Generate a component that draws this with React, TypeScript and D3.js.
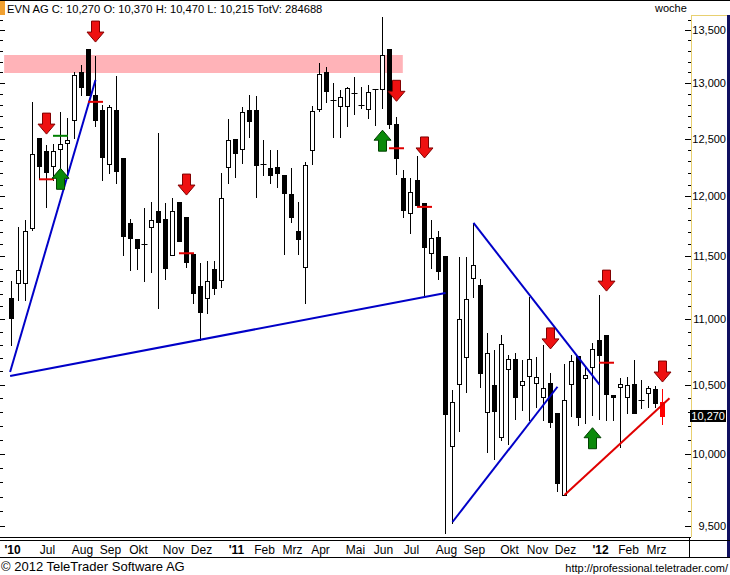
import React from "react";
import * as d3 from "d3";

const W = 730;
const H = 575;

// weekly OHLC, EVN AG, June 2010 – March 2012
const openP = [11165, 11285, 11285, 11735, 12505, 12390, 12260, 12410, 12460, 12665,
  13105, 13320, 12890, 12755, 12275, 12755, 12330, 11775, 11640, 11600,
  11740, 11875, 11810, 11510, 11950, 11825, 11520, 11260, 11165, 11395,
  11310, 12250, 12495, 12410, 12755, 12755, 12275, 12240, 12250, 12180,
  12020, 11710, 11415, 12400, 12765, 13105, 12845, 12790, 12790, 12910,
  12800, 12765, 12950, 12950, 13320, 12630, 12155, 11860, 12140, 11945,
  11525, 11660, 11505, 10055, 10505, 10710, 11325, 11270, 10300, 10500,
  10120, 10615, 10695, 10500, 10565, 10515, 10410, 10515, 10290, 9710,
  10505, 10715, 10550, 10630, 10840, 10875, 10425, 10485, 10410, 10505,
  10385, 10440, 10470, 10370];
const highP = [11300, 11740, 11800, 12830, 12505, 12445, 12450, 12740, 12685, 13105,
  13170, 13320, 13255, 12800, 12800, 13065, 12330, 11810, 11640, 11900,
  11950, 12550, 11945, 11985, 11950, 11825, 11520, 11445, 11460, 11460,
  12200, 12675, 12495, 12785, 12890, 12885, 12490, 12400, 12400, 12180,
  12240, 11950, 12295, 12790, 13190, 13150, 13005, 12940, 12965, 13060,
  12965, 12985, 12950, 13625, 13320, 12695, 12225, 12155, 12345, 11945,
  11800, 11710, 11505, 10460, 11495, 11495, 11775, 11315, 10890, 10760,
  10875, 10725, 10740, 10685, 11175, 10710, 10800, 10585, 10290, 10655,
  10725, 10715, 10630, 10815, 11190, 10875, 10425, 10550, 10555, 10685,
  10535, 10490, 10490, 10470];
const lowP = [10800, 11150, 11150, 11715, 12145, 11910, 12140, 12165, 12165, 12505,
  12890, 12890, 12610, 12140, 12200, 12115, 11510, 11390, 11395, 11300,
  11375, 11085, 11315, 11510, 11625, 11415, 11125, 10840, 11045, 11195,
  11250, 12115, 12165, 12285, 12515, 11995, 12180, 12115, 12080, 11520,
  11785, 11520, 11125, 12275, 12745, 12830, 12515, 12515, 12610, 12720,
  12775, 12685, 12620, 12775, 12595, 12190, 11825, 11690, 11925, 11190,
  11405, 11315, 9455, 9520, 10160, 10445, 11175, 10485, 10010, 9960,
  10095, 10070, 10250, 10315, 10240, 10335, 10240, 10190, 9740, 9710,
  10270, 10205, 10220, 10275, 10250, 10240, 10240, 10045, 10290, 10290,
  10330, 10335, 10335, 10215];
const closeP = [11010, 11390, 11710, 12365, 12260, 12210, 12390, 12450, 12490, 13075,
  12965, 12890, 12665, 12340, 12785, 12215, 11665, 11650, 11570, 11600,
  11800, 11785, 11405, 11875, 11625, 11455, 11205, 11055, 11300, 11245,
  11985, 12490, 12375, 12740, 12655, 12270, 12275, 12180, 12200, 12030,
  11825, 11640, 12270, 12745, 13085, 12930, 12845, 12875, 12955, 12910,
  12800, 12920, 12950, 13265, 12630, 12330, 11885, 12035, 11925, 11575,
  11650, 11380, 10285, 10370, 11000, 11155, 11430, 10590, 10740, 10305,
  10805, 10695, 10410, 10530, 10695, 10555, 10475, 10225, 9795, 10385,
  10680, 10260, 10570, 10770, 10725, 10430, 10410, 10505, 10500, 10290,
  10385, 10475, 10365, 10270];

// x-axis month labels and the week they sit on
const monthNames = ["'10", "Jul", "Aug", "Sep", "Okt", "Nov", "Dez", "'11", "Feb", "Mrz", "Apr",
  "Mai", "Jun", "Jul", "Aug", "Sep", "Okt", "Nov", "Dez", "'12", "Feb", "Mrz"];
const monthWeeks = [0, 5, 10, 14, 18, 23, 27, 32, 36, 40, 44, 49, 53, 57, 62, 66, 71, 75, 79, 84, 88, 92];

const yTickValues = [9500, 10000, 10500, 11000, 11500, 12000, 12500, 13000, 13500];

// signals: week index, arrow tip price
const sellWeeks = [5, 12, 25, 55, 59, 77, 85, 93];
const sellTips = [12540, 13385, 12010, 12835, 12330, 10770, 11220, 10520];
const buyWeeks = [7, 53, 83];
const buyTips = [12240, 12575, 10185];
// stop dashes: week, price, kind
const dashWeeks = [5, 7, 12, 25, 55, 59, 85];
const dashPrices = [12145, 12525, 12830, 11525, 12415, 11910, 10665];
const dashKinds = ["sell", "buy", "sell", "sell", "sell", "sell", "sell"];

// trend lines: start week, start price, end week, end price
const lineStartWeek = [-0.2, -0.2, 63, 66, 79];
const lineStartPrice = [10595, 10565, 9527, 11775, 9711];
const lineEndWeek = [12, 62, 78, 84, 94];
const lineEndPrice = [13030, 11205, 10485, 10500, 10400];
const lineColors = ["#0000c8", "#0000c8", "#0000c8", "#0000c8", "#e00000"];

// resistance zone
const zoneWeeks = [-1.05, 55.9];
const zonePrices = [13095, 13263];

const FONT = "'Liberation Sans', Arial, sans-serif";

export default function App() {
  const x = d3.scaleLinear().domain([0, 93]).range([11.5, 662.5]);
  const y = d3.scaleLog().domain([9500, 13500]).range([526, 30]);
  const plotRight = 691;
  const plotTop = 15;
  const plotBottom = 537;

  const minorTicks = d3.range(9500, 13601, 100);
  const yr = (v: number) => Math.round(y(v));

  const downArrow = (cx: number, ty: number) =>
    `M${cx - 4},${ty - 21}L${cx + 4},${ty - 21}L${cx + 4},${ty - 10}L${cx + 8.5},${ty - 10}L${cx},${ty}L${cx - 8.5},${ty - 10}L${cx - 4},${ty - 10}Z`;
  const upArrow = (cx: number, ty: number) =>
    `M${cx - 4},${ty + 21}L${cx + 4},${ty + 21}L${cx + 4},${ty + 10}L${cx + 8.5},${ty + 10}L${cx},${ty}L${cx - 8.5},${ty + 10}L${cx - 4},${ty + 10}Z`;

  const last = closeP[closeP.length - 1];

  return (
    <svg width={W} height={H} style={{ position: "absolute", left: 0, top: 0, background: "#fff" }}
      fontFamily={FONT}>
      <rect x={0} y={0} width={W} height={H} fill="#fff" />
      {/* top border */}
      <line x1={0} x2={W} y1={0.5} y2={0.5} stroke="#000" />
      <rect x={0} y={1} width={5} height={14} fill="#f0a030" />
      <text x={7} y={13} fontSize={11.2} fill="#000">
        EVN AG C: 10,270 O: 10,370 H: 10,470 L: 10,215 TotV: 284688
      </text>
      <text x={655} y={12} fontSize={11} fill="#000">woche</text>

      {/* resistance zone */}
      <rect x={x(zoneWeeks[0])} y={y(zonePrices[1])} width={x(zoneWeeks[1]) - x(zoneWeeks[0])}
        height={y(zonePrices[0]) - y(zonePrices[1])} fill="#ffb3b8" />

      {/* left edge ticks */}
      {minorTicks.map((v) => (
        <line key={"lt" + v} x1={0} x2={v % 500 === 0 ? 5 : 3} y1={yr(v) + 0.5} y2={yr(v) + 0.5} stroke="#000" />
      ))}

      {/* candles */}
      {openP.map((o, i) => {
        const c = closeP[i];
        const cx = x(i);
        const isLast = i === openP.length - 1;
        const col = isLast ? "#ff0000" : "#000";
        const top = yr(Math.max(o, c));
        const bot = yr(Math.min(o, c));
        const down = c < o;
        return (
          <g key={"c" + i}>
            <line x1={cx} x2={cx} y1={yr(highP[i])} y2={yr(lowP[i]) + 1} stroke={col} />
            {o === c ? (
              <line x1={cx - 3} x2={cx + 3} y1={top + 0.5} y2={top + 0.5} stroke={col} />
            ) : down ? (
              <rect x={cx - 2.5} y={top} width={5} height={Math.max(1, bot - top + 1)} fill={col} />
            ) : (
              <rect x={cx - 2} y={top + 0.5} width={4} height={Math.max(1, bot - top)} fill="#fff" stroke={col} />
            )}
          </g>
        );
      })}

      {/* trend lines */}
      {lineStartWeek.map((w, i) => (
        <line key={"tl" + i} x1={x(w)} y1={y(lineStartPrice[i])} x2={x(lineEndWeek[i])} y2={y(lineEndPrice[i])}
          stroke={lineColors[i]} strokeWidth={2} />
      ))}

      {/* stop dashes */}
      {dashWeeks.map((w, i) => (
        <line key={"d" + i} x1={x(w) - 7.5} x2={x(w) + 7.5} y1={y(dashPrices[i])} y2={y(dashPrices[i])}
          stroke={dashKinds[i] === "sell" ? "#e00000" : "#008000"} strokeWidth={2} />
      ))}

      {/* arrows */}
      {sellWeeks.map((w, i) => (
        <path key={"s" + i} d={downArrow(x(w), y(sellTips[i]))} fill="#ee1111" stroke="#800000" strokeWidth={1} />
      ))}
      {buyWeeks.map((w, i) => (
        <path key={"b" + i} d={upArrow(x(w), y(buyTips[i]))} fill="#0a8a0a" stroke="#004000" strokeWidth={1} />
      ))}

      {/* right axis panel */}
      <rect x={plotRight} y={plotTop} width={W - plotRight} height={plotBottom - plotTop} fill="#fff" />
      <line x1={plotRight + 0.5} x2={plotRight + 0.5} y1={plotTop} y2={plotBottom} stroke="#e8d070" />
      <line x1={plotRight} x2={727} y1={plotTop + 0.5} y2={plotTop + 0.5} stroke="#e8d070" />
      <line x1={728.5} x2={728.5} y1={plotTop} y2={557} stroke="#101060" strokeWidth={3} />
      {minorTicks.map((v) => (
        <line key={"rt" + v} x1={v % 500 === 0 ? plotRight - 6 : plotRight - 3} x2={plotRight}
          y1={yr(v) + 0.5} y2={yr(v) + 0.5} stroke="#000" />
      ))}
      {yTickValues.map((v) => (
        <text key={"yl" + v} x={726} y={y(v) + 4} fontSize={11} textAnchor="end" fill="#000">
          {d3.format(",")(v)}
        </text>
      ))}
      <rect x={690} y={y(last) - 6} width={36} height={12} fill="#000" />
      <text x={725} y={y(last) + 4} fontSize={11} textAnchor="end" fill="#fff">
        {d3.format(",")(last)}
      </text>

      {/* x axis */}
      <line x1={0} x2={plotRight} y1={plotBottom + 0.5} y2={plotBottom + 0.5} stroke="#000" />
      <line x1={0} x2={W} y1={540.5} y2={540.5} stroke="#000" />
      <line x1={0} x2={W} y1={557.5} y2={557.5} stroke="#000" />
      <line x1={689.5} x2={689.5} y1={537} y2={557} stroke="#000" />
      {monthNames.map((m, i) => (
        <text key={"m" + i} x={x(monthWeeks[i]) + 1} y={554} fontSize={12} textAnchor="middle"
          fontWeight={m.startsWith("'") ? "bold" : "normal"} fill="#000">
          {m}
        </text>
      ))}

      <text x={1} y={571} fontSize={13} fill="#000">© 2012 TeleTrader Software AG</text>
      <text x={728} y={572} fontSize={11} textAnchor="end" fill="#000">http://professional.teletrader.com/</text>
    </svg>
  );
}
